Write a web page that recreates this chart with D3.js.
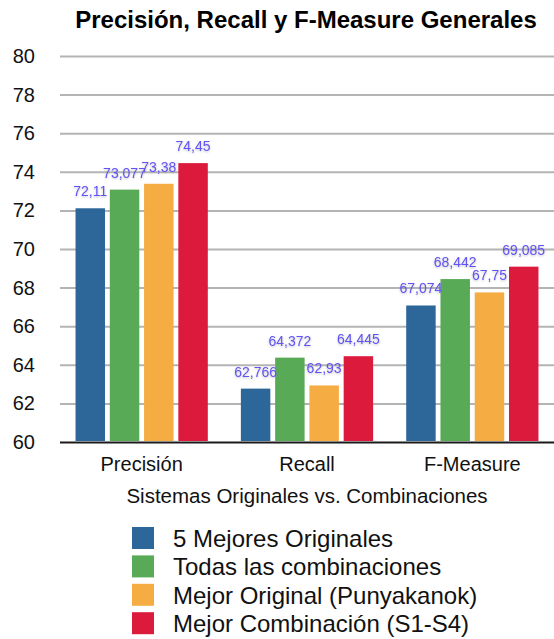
<!DOCTYPE html>
<html>
<head>
<meta charset="utf-8">
<script src="https://cdnjs.cloudflare.com/ajax/libs/d3/7.8.5/d3.min.js"></script>
<style>
  body { margin: 0; background: #fff; }
  svg { display: block; font-family: 'Liberation Sans', Arial, Helvetica, sans-serif; }
</style>
</head>
<body>
<div id="chart"></div>
<script>
var categories = ['Precisión', 'Recall', 'F-Measure'];
var seriesNames = ['5 Mejores Originales', 'Todas las combinaciones', 'Mejor Original (Punyakanok)', 'Mejor Combinación (S1-S4)'];
var mejoresOriginales = [72.11, 62.766, 67.074];
var todasCombinaciones = [73.077, 64.372, 68.442];
var mejorOriginal = [73.38, 62.93, 67.75];
var mejorCombinacion = [74.45, 64.445, 69.085];
var yTicks = [60, 62, 64, 66, 68, 70, 72, 74, 76, 78, 80];

(function(d3) {
  'use strict';

  var width = 554;
  var height = 639;
  var colors = ['#2d6699', '#58aa57', '#f5ac42', '#dc1a3c'];
  var seriesValues = [mejoresOriginales, todasCombinaciones, mejorOriginal, mejorCombinacion];

  var svg = d3.select('#chart')
    .append('svg')
    .attr('width', width)
    .attr('height', height);

  // soft glow behind value labels
  var filter = svg.append('defs').append('filter')
    .attr('id', 'glow')
    .attr('x', '-20%').attr('y', '-40%')
    .attr('width', '140%').attr('height', '180%');
  filter.append('feDropShadow')
    .attr('dx', 0).attr('dy', 1)
    .attr('stdDeviation', 1.2)
    .attr('flood-color', '#888')
    .attr('flood-opacity', 0.55);

  var x0 = d3.scaleBand()
    .domain(categories)
    .range([59, 555])
    .paddingInner(0.2)
    .paddingOuter(0.1);

  var x1 = d3.scaleBand()
    .domain(d3.range(seriesNames.length))
    .range([0, x0.bandwidth()])
    .paddingInner(0.14);

  var y = d3.scaleLinear()
    .domain([60, 80])
    .range([442, 56]);

  // title
  svg.append('text')
    .attr('x', 306)
    .attr('y', 28)
    .attr('text-anchor', 'middle')
    .style('font-size', '24px')
    .style('font-weight', 'bold')
    .text('Precisión, Recall y F-Measure Generales');

  // grid + y labels
  var yAxis = d3.axisLeft(y)
    .tickValues(yTicks)
    .tickSize(-(554 - 60))
    .tickPadding(25)
    .tickFormat(d3.format('d'));

  var yg = svg.append('g')
    .attr('transform', 'translate(60,0)')
    .call(yAxis);
  yg.select('.domain').remove();
  yg.selectAll('.tick line')
    .attr('stroke', function(d) { return d === 60 ? '#1a1a1a' : '#b4b4b4'; })
    .attr('stroke-width', 2);
  yg.selectAll('.tick text')
    .attr('fill', '#111')
    .style('font-size', '20px');

  // bars
  var rows = categories.map(function(c, i) {
    return { cat: c, values: seriesValues.map(function(s) { return s[i]; }) };
  });

  var groups = svg.selectAll('.group')
    .data(rows)
    .enter()
    .append('g')
    .attr('class', 'group')
    .attr('transform', function(d) { return 'translate(' + x0(d.cat) + ',0)'; });

  groups.selectAll('rect')
    .data(function(d) { return d.values; })
    .enter()
    .append('rect')
    .attr('x', function(d, i) { return x1(i); })
    .attr('y', function(d) { return y(d); })
    .attr('width', x1.bandwidth())
    .attr('height', function(d) { return y(60) - y(d) - 1; })
    .attr('fill', function(d, i) { return colors[i]; });

  groups.selectAll('.val')
    .data(function(d) { return d.values; })
    .enter()
    .append('text')
    .attr('class', 'val')
    .attr('x', function(d, i) { return x1(i) + x1.bandwidth() / 2; })
    .attr('y', function(d) { return y(d) - 12; })
    .attr('text-anchor', 'middle')
    .attr('fill', '#6252f5')
    .attr('filter', 'url(#glow)')
    .style('font-size', '14px')
    .text(function(d) { return String(d).replace('.', ','); });

  // x labels
  svg.selectAll('.xlabel')
    .data(categories)
    .enter()
    .append('text')
    .attr('class', 'xlabel')
    .attr('x', function(d) { return x0(d) + x0.bandwidth() / 2; })
    .attr('y', 471)
    .attr('text-anchor', 'middle')
    .attr('fill', '#111')
    .style('font-size', '20px')
    .text(function(d) { return d; });

  svg.append('text')
    .attr('x', 307)
    .attr('y', 503)
    .attr('text-anchor', 'middle')
    .attr('fill', '#111')
    .style('font-size', '20.5px')
    .text('Sistemas Originales vs. Combinaciones');

  // legend
  var legend = svg.selectAll('.legend')
    .data(seriesNames)
    .enter()
    .append('g')
    .attr('class', 'legend')
    .attr('transform', function(d, i) {
      return 'translate(132,' + (527 + i * 28.4) + ')';
    });

  legend.append('rect')
    .attr('width', 22)
    .attr('height', 22)
    .attr('fill', function(d, i) { return colors[i]; });

  legend.append('text')
    .attr('x', 41)
    .attr('y', 20)
    .attr('fill', '#111')
    .style('font-size', '24px')
    .text(function(d) { return d; });

})(window.d3);
</script>
</body>
</html>
